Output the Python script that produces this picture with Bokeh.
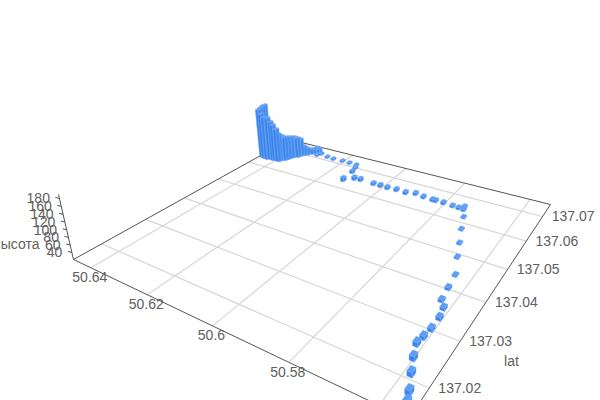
import numpy as np
from bokeh.plotting import figure
from bokeh.models import Range1d
from bokeh.embed import file_html
from bokeh.resources import INLINE
from bokeh.core.properties import value

# ---- data: points along the track ----
point_lon = [50.6330,50.6302,50.6295,50.6264,50.6238,50.6203,50.6175,50.6148,50.6139,50.6132,50.6126,50.6101,50.6081,50.6033,50.6009,
 50.5984,50.5955,50.5923,50.5895,50.5867,50.5837,50.5827,50.5803,50.5774,50.5755,50.5743,50.5739,50.5724,50.5705,50.5683,50.5663,
 50.5638,50.5632,50.5627,50.5612,50.5606,50.5606,50.5609,50.5612,50.5600,50.5585,50.5568,50.5560]
point_lat = [137.0740,137.0711,137.0721,137.0714,137.0712,137.0713,137.0712,137.0711,137.0697,137.0676,137.0633,137.0650,137.0652,137.0650,137.0650,
 137.0649,137.0651,137.0649,137.0656,137.0652,137.0650,137.0650,137.0650,137.0648,137.0647,137.0657,137.0645,137.0620,137.0577,137.0532,137.0489,
 137.0440,137.0402,137.0369,137.0353,137.0329,137.0301,137.0280,137.0263,137.0236,137.0209,137.0180,137.0163]
point_alt = [30,28,27,27,27,27,27,27,28,30,34,32,31,30,30,30,30,30,30,29,29,29,29,28,28,28,28,26,26,26,26,26,28,28,29,30,30,31,32,33,33,33,33]
bar_lon = [50.6471,50.6466,50.6462,50.6457,50.6446,50.6432,50.6423,50.6410,50.6404,50.6390,50.6385,50.6381,50.6372,50.6369,50.6365,50.6361,50.6352,50.6348,50.6344,50.6336,50.6332,50.6323,50.6319,50.6310]
bar_lat = [137.0675,137.0663,137.0652,137.0641,137.0639,137.0638,137.0642,137.0641,137.0643,137.0642,137.0645,137.0653,137.0656,137.0664,137.0672,137.0680,137.0684,137.0692,137.0700,137.0704,137.0712,137.0716,137.0724,137.0728]
bar_alt = [178,180,179,179,168,161,158,148,138,128,111,102,98,95,92,89,86,79,52,45,38,38,38,35]
lon_grid = [50.64,50.62,50.60,50.58,50.56]
lon_labels = ["50.64","50.62","50.6","50.58"]
lat_grid = [137.02,137.03,137.04,137.05,137.06,137.07]
lat_labels = ["137.02","137.03","137.04","137.05","137.06","137.07"]
alt_ticks = [40,60,80,100,120,140,160,180]
alt_labels = [str(v) for v in alt_ticks]

# ---- scene / camera ----
LON_A, LON_B, LAT_A, LAT_D = 50.64674, 50.55422, 137.01424, 137.07545
Z0, Z1 = 21.0, 190.0
CORNERS = [(73,259),(408,419),(550,204),(289,139)]
VP = np.array([405.0,1700.0,1.0]); ZC = -2.556e-4
HALF = 0.00055
TEXT = "#606060"; AXIS = "#555555"; GRID = "#d6d6d6"
def homog(src,dst):
    M=[];R=[]
    for (x,y),(u,v) in zip(src,dst):
        M.append([x,y,1,0,0,0,-u*x,-u*y]);R.append(u)
        M.append([0,0,0,x,y,1,-v*x,-v*y]);R.append(v)
    a=np.linalg.solve(np.array(M,float),np.array(R,float))
    return np.array([[a[0],a[1],a[2]],[a[3],a[4],a[5]],[a[6],a[7],1]])
H = homog([(0,0),(1,0),(1,1),(0,1)],CORNERS)
def st(lon,lat):
    return (lon-LON_A)/(LON_B-LON_A),(lat-LAT_A)/(LAT_D-LAT_A)
def proj(lon,lat,z=Z0):
    s,t=st(lon,lat)
    q = H@np.array([s,t,1.0]) + (z-Z0)*ZC*VP
    return q[0]/q[2], q[1]/q[2]
def depth(lon,lat):
    s,t=st(lon,lat)
    return (H@np.array([s,t,1.0]))[2]

p = figure(width=600,height=400,x_range=Range1d(0,600),y_range=Range1d(400,0),
           output_backend="svg",toolbar_location=None,min_border=0,background_fill_color="white")
p.axis.visible=False; p.grid.visible=False; p.outline_line_color=None

def seg(a,b):
    return [a[0],b[0]],[a[1],b[1]]
gx=[];gy=[]
for v in lon_grid:
    x,y=seg(proj(v,LAT_A),proj(v,LAT_D)); gx.append(x); gy.append(y)
for v in lat_grid:
    x,y=seg(proj(LON_A,v),proj(LON_B,v)); gx.append(x); gy.append(y)
p.multi_line(gx,gy,line_color=GRID,line_width=1.2)
ax=[];ay=[]
for a,b in [((LON_A,LAT_A),(LON_B,LAT_A)),((LON_B,LAT_A),(LON_B,LAT_D)),((LON_B,LAT_D),(LON_A,LAT_D)),((LON_A,LAT_D),(LON_A,LAT_A))]:
    x,y=seg(proj(*a),proj(*b)); ax.append(x); ay.append(y)
x,y=seg(proj(LON_A,LAT_A,Z0),proj(LON_A,LAT_A,Z1)); ax.append(x); ay.append(y)
for v in alt_ticks:
    q=proj(LON_A,LAT_A,v); ax.append([q[0]-4,q[0]]); ay.append([q[1]-1,q[1]])
p.multi_line(ax,ay,line_color=AXIS,line_width=1)

boxes=[(a,b,Z0,c) for a,b,c in zip(bar_lon,bar_lat,bar_alt)]+[(a,b,Z0,c) for a,b,c in zip(point_lon,point_lat,point_alt)]
boxes.sort(key=lambda r:-depth(r[0],r[1]))
fx=[];fy=[];fc=[]
for lon,lat,z0,z1 in boxes:
    l0,l1=lon-HALF,lon+HALF; t0,t1=lat-HALF,lat+HALF
    faces=[([(l1,t0,z0),(l0,t0,z0),(l0,t0,z1),(l1,t0,z1)],"#3a82ea"),
           ([(l0,t0,z0),(l0,t1,z0),(l0,t1,z1),(l0,t0,z1)],"#458bee"),
           ([(l0,t0,z1),(l0,t1,z1),(l1,t1,z1),(l1,t0,z1)],"#5f9cf3")]
    for pts,col in faces:
        q=[proj(*r) for r in pts]
        fx.append([a for a,_ in q]); fy.append([b for _,b in q]); fc.append(col)
p.patches(fx,fy,fill_color=fc,line_color="#6ea8f5",line_width=0.5)

F=value("Liberation Sans")
def labels(x,y,t,align="center"):
    p.text(x,y,text=t,text_font=F,text_font_size="14px",text_color=TEXT,text_align=align,text_baseline="middle")
q=[proj(v,LAT_A) for v in lon_grid[:len(lon_labels)]]
labels([a-1 for a,_ in q],[b+9.5 for _,b in q],lon_labels)
q=[proj(LON_B,v) for v in lat_grid]
labels([a+30.5 for a,_ in q],[b-0.5 for _,b in q],lat_labels)
q=[proj(LON_A,LAT_A,v) for v in alt_ticks]
labels([a-9.5 for a,_ in q],[b for _,b in q],alt_labels,"right")
labels([511],[360],["lat"])
labels([39],[243],["высота"],"right")
open("out.html","w").write(file_html(p,INLINE))
